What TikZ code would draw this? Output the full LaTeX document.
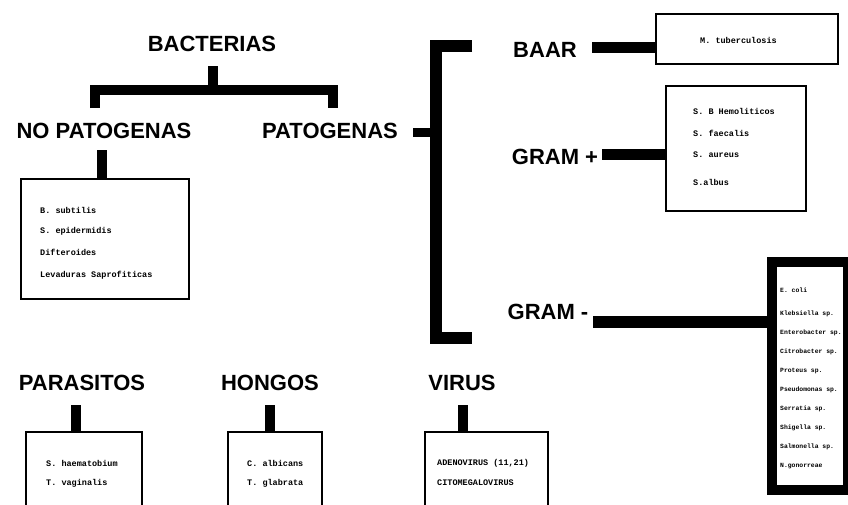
\documentclass[tikz,border=0pt]{standalone}
\usepackage{fontspec}
\setmainfont{Liberation Sans}
\setmonofont{Liberation Mono}
\begin{document}
\begin{tikzpicture}[x=1pt,y=-1pt,
  lbl/.style={font=\fontsize{22}{24}\selectfont\bfseries, inner sep=0pt},
  conn/.style={line width=10pt, line join=miter, line cap=butt},
  box/.style={draw, line width=1.5pt, line join=miter},
  thickbox/.style={draw, line width=10pt, line join=miter},
  item/.style={font=\fontsize{8.5}{9}\selectfont\ttfamily\bfseries, anchor=west, inner sep=0pt},
  smallitem/.style={font=\fontsize{6.4}{7}\selectfont\ttfamily\bfseries, anchor=west, inner sep=0pt}]
\useasboundingbox (0,0) rectangle (848,504);

% ---- bacterias tree
\node[lbl] (bact) at (212,44) {BACTERIAS};
\node[lbl] (nopat) at (104,131) {NO PATOGENAS};
\node[lbl] (pat) at (330,131) {PATOGENAS};
\coordinate (stemtop) at (213,66);
\coordinate (fork) at (213,90);
\coordinate (forkL) at (95,90);
\coordinate (forkR) at (333,90);
\coordinate (legL) at (95,108);
\coordinate (legR) at (333,108);
\draw[conn] (stemtop) -- (fork);
\draw[conn] (legL) -- (forkL) -- (forkR) -- (legR);

% ---- no patogenas box
\coordinate (npTop) at (102,150);
\coordinate (npBox) at (102,178);
\draw[conn] (npTop) -- (npBox);
\node[box, minimum width=168pt, minimum height=120pt, anchor=north west, inner sep=0pt] (npbox) at (20,178) {};
\node[item] (np1) at (40,210) {B. subtilis};
\node[item] (np2) at (40,231) {S. epidermidis};
\node[item] (np3) at (40,252) {Difteroides};
\node[item] (np4) at (40,275) {Levaduras Saprofiticas};

% ---- patogenas bracket
\coordinate (patR) at (413,132);
\coordinate (brM) at (436,132);
\draw[conn, line width=9pt] (patR) -- (brM);
\coordinate (brT) at (472,46);
\coordinate (brTL) at (436,46);
\coordinate (brBL) at (436,338);
\coordinate (brB) at (472,338);
\draw[conn, line width=12pt] (brT) -- (brTL) -- (brBL) -- (brB);

% ---- BAAR
\node[lbl] (baar) at (545,50) {BAAR};
\node[box, minimum width=182pt, minimum height=50pt, anchor=north west, inner sep=0pt] (baarbox) at (655,13) {};
\coordinate (baarC) at (592,47);
\draw[conn, line width=11pt] (baarC) -- (baarC -| baarbox.west);
\node[item] (b1) at (700,40) {M. tuberculosis};

% ---- GRAM +
\node[lbl] (gp) at (555,157) {GRAM +};
\node[box, minimum width=140pt, minimum height=125pt, anchor=north west, inner sep=0pt] (gpbox) at (665,85) {};
\coordinate (gpC) at (602,154);
\draw[conn, line width=11pt] (gpC) -- (gpC -| gpbox.west);
\node[item] (gp1) at (693,111) {S. B Hemoliticos};
\node[item] (gp2) at (693,133) {S. faecalis};
\node[item] (gp3) at (693,155) {S. aureus};
\node[item] (gp4) at (693,182) {S.albus};

% ---- GRAM -
\node[lbl] (gm) at (548,312) {GRAM -};
\node[thickbox, minimum width=76pt, minimum height=228pt, anchor=north west, inner sep=0pt] (gmbox) at (767,257) {};
\coordinate (gmC) at (593,322);
\draw[conn, line width=12pt] (gmC) -- (gmC -| gmbox.west);
\node[smallitem] (gm1) at (780,290) {E. coli};
\node[smallitem] (gm2) at (780,314) {Klebsiella sp.};
\node[smallitem] (gm3) at (780,333) {Enterobacter sp.};
\node[smallitem] (gm4) at (780,352) {Citrobacter sp.};
\node[smallitem] (gm5) at (780,371) {Proteus sp.};
\node[smallitem] (gm6) at (780,390) {Pseudomonas sp.};
\node[smallitem] (gm7) at (780,409) {Serratia sp.};
\node[smallitem] (gm8) at (780,428) {Shigella sp.};
\node[smallitem] (gm9) at (780,447) {Salmonella sp.};
\node[smallitem] (gm10) at (780,466) {N.gonorreae};

% ---- bottom row
\node[lbl] (par) at (82,383) {PARASITOS};
\node[lbl] (hon) at (270,383) {HONGOS};
\node[lbl] (vir) at (462,383) {VIRUS};

\coordinate (parS) at (76,405);
\coordinate (parB) at (76,432);
\draw[conn] (parS) -- (parB);
\draw[box] (26,506) -- (26,432) -- (142,432) -- (142,506);
\node[item] (pa1) at (46,463) {S. haematobium};
\node[item] (pa2) at (46,483) {T. vaginalis};

\coordinate (honS) at (270,405);
\coordinate (honB) at (270,432);
\draw[conn] (honS) -- (honB);
\draw[box] (228,506) -- (228,432) -- (322,432) -- (322,506);
\node[item] (ho1) at (247,463) {C. albicans};
\node[item] (ho2) at (247,483) {T. glabrata};

\coordinate (virS) at (463,405);
\coordinate (virB) at (463,432);
\draw[conn] (virS) -- (virB);
\draw[box] (425,506) -- (425,432) -- (548,432) -- (548,506);
\node[item] (vi1) at (437,463) {ADENOVIRUS (11,21)};
\node[item] (vi2) at (437,483) {CITOMEGALOVIRUS};
\end{tikzpicture}
\end{document}
